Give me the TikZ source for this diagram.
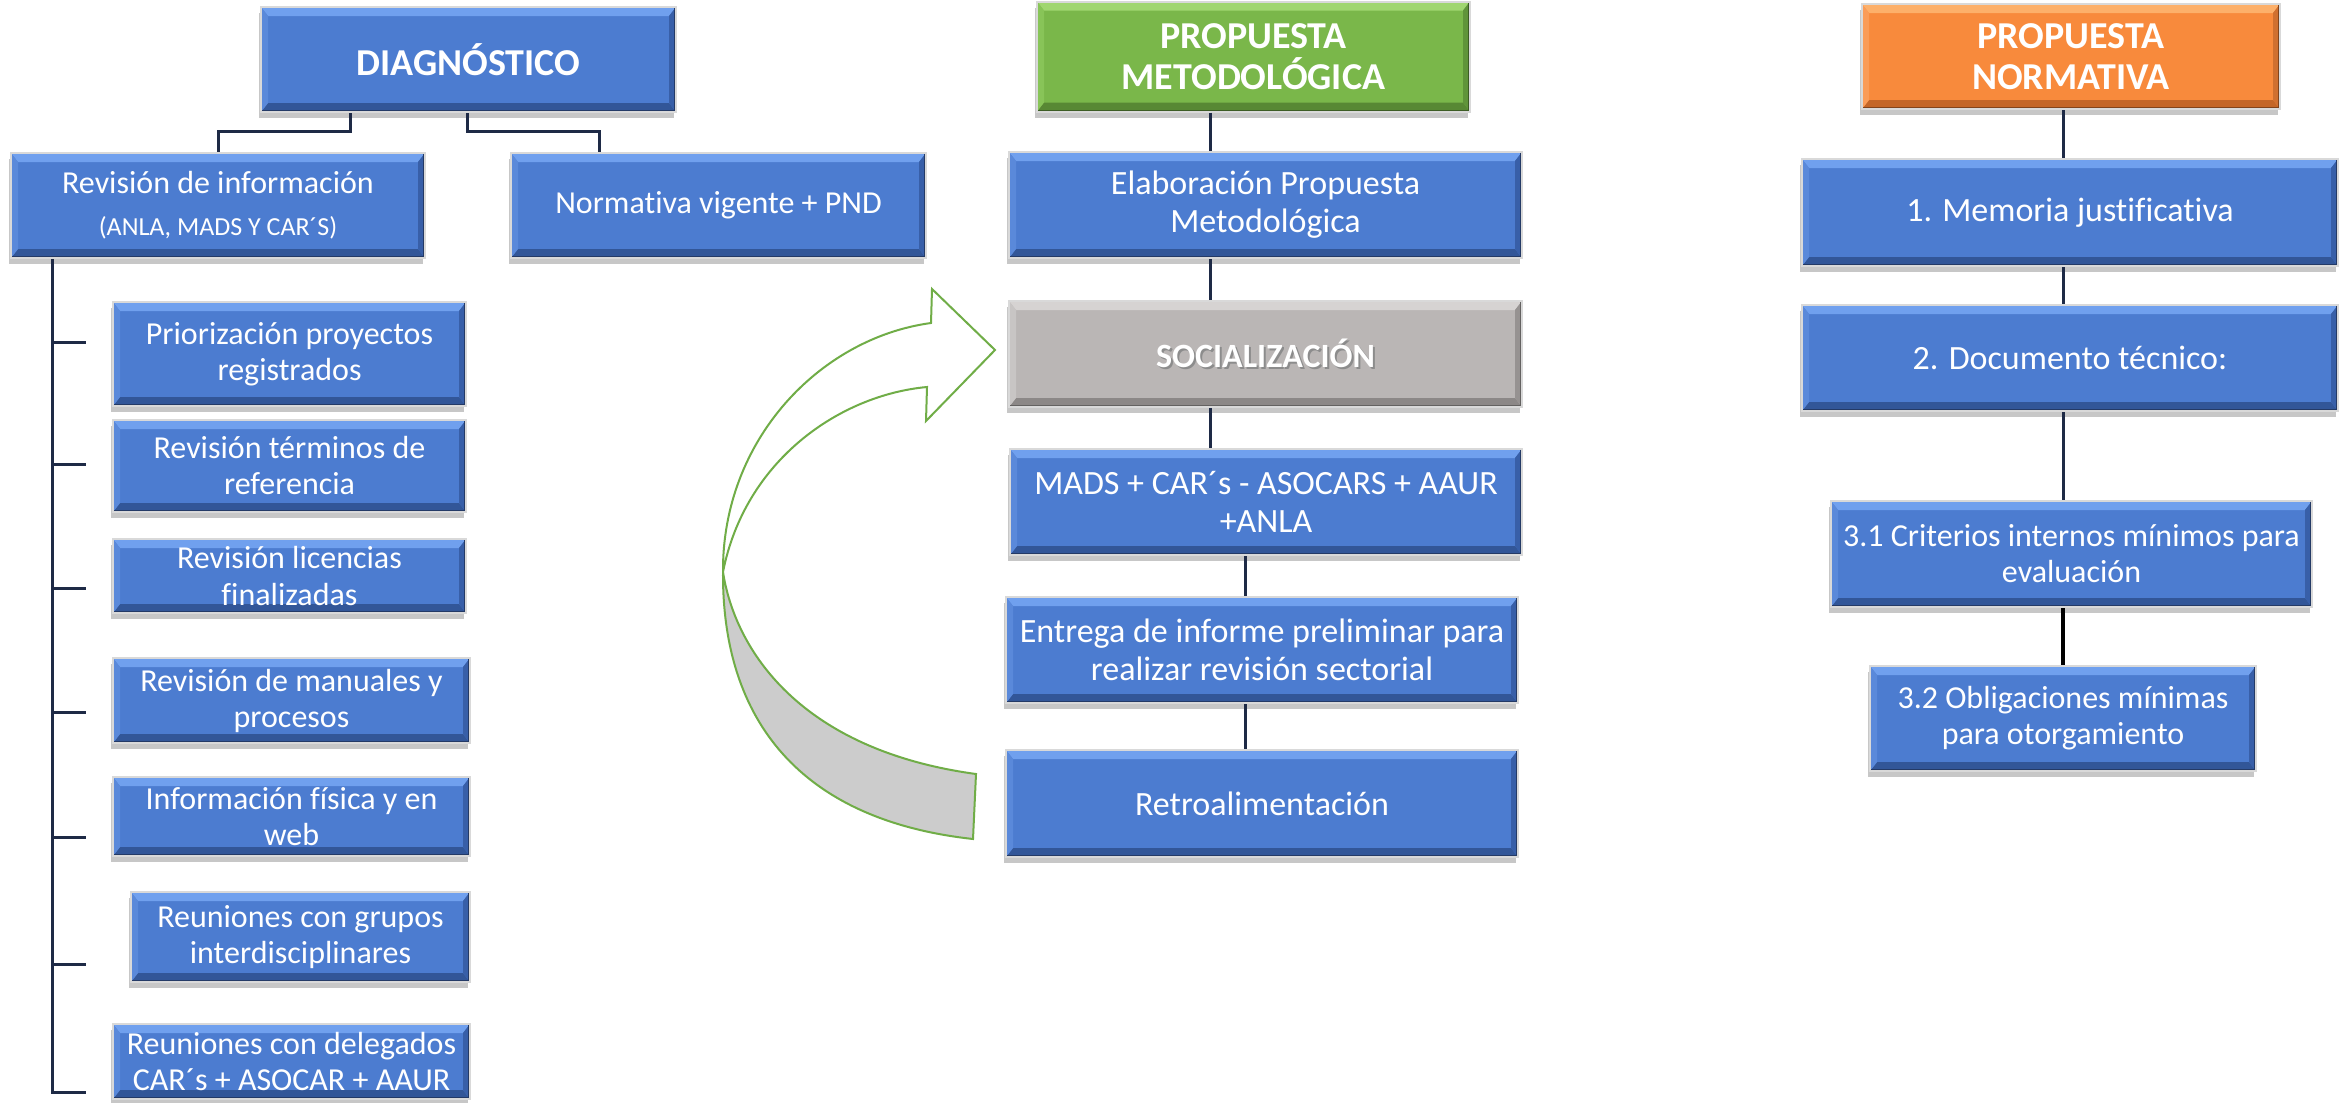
\documentclass[tikz,border=0pt]{standalone}
\usepackage{fontspec}
\setmainfont{Carlito}[Ligatures=NoCommon]
\usetikzlibrary{shadows}
\definecolor{bl}{RGB}{76,124,208}
\definecolor{blT}{RGB}{112,160,238}
\definecolor{blB}{RGB}{50,86,152}
\definecolor{blL}{RGB}{90,137,218}
\definecolor{blR}{RGB}{56,95,168}
\definecolor{blE}{RGB}{36,58,102}
\definecolor{gr}{RGB}{122,183,74}
\definecolor{grT}{RGB}{160,214,112}
\definecolor{grB}{RGB}{88,136,52}
\definecolor{grL}{RGB}{136,196,88}
\definecolor{grR}{RGB}{96,148,58}
\definecolor{grE}{RGB}{60,92,36}
\definecolor{orn}{RGB}{248,138,60}
\definecolor{ornT}{RGB}{253,176,106}
\definecolor{ornB}{RGB}{196,102,40}
\definecolor{ornL}{RGB}{250,156,88}
\definecolor{ornR}{RGB}{208,112,48}
\definecolor{ornE}{RGB}{130,68,28}
\definecolor{gy}{RGB}{186,182,181}
\definecolor{gyT}{RGB}{214,211,210}
\definecolor{gyB}{RGB}{140,136,135}
\definecolor{gyL}{RGB}{200,197,196}
\definecolor{gyR}{RGB}{150,146,145}
\definecolor{gyE}{RGB}{100,98,97}
\definecolor{navy}{RGB}{30,42,70}
\definecolor{agreen}{RGB}{112,173,71}
\definecolor{agray}{RGB}{204,204,204}
\tikzset{
  bevbox/.style n args={6}{rectangle, inner sep=0pt, text=white, align=center,
    fill=#1, draw=black!15, line width=2pt,
    drop shadow={shadow xshift=-2pt, shadow yshift=-6pt, opacity=0.22, fill=black},
    path picture={
      \fill[#2] (path picture bounding box.north west) -- (path picture bounding box.north east)
        -- ([xshift=-7pt,yshift=-9pt]path picture bounding box.north east)
        -- ([xshift=7pt,yshift=-9pt]path picture bounding box.north west) -- cycle;
      \fill[#3] (path picture bounding box.south west) -- (path picture bounding box.south east)
        -- ([xshift=-7pt,yshift=9pt]path picture bounding box.south east)
        -- ([xshift=7pt,yshift=9pt]path picture bounding box.south west) -- cycle;
      \fill[#4] (path picture bounding box.north west) -- (path picture bounding box.south west)
        -- ([xshift=7pt,yshift=9pt]path picture bounding box.south west)
        -- ([xshift=7pt,yshift=-9pt]path picture bounding box.north west) -- cycle;
      \fill[#5] (path picture bounding box.north east) -- (path picture bounding box.south east)
        -- ([xshift=-7pt,yshift=9pt]path picture bounding box.south east)
        -- ([xshift=-7pt,yshift=-9pt]path picture bounding box.north east) -- cycle;
      \draw[#6, line width=4pt] (path picture bounding box.north east) -- (path picture bounding box.south east) -- (path picture bounding box.south west);
    }},
  bluebox/.style={bevbox={bl}{blT}{blB}{blL}{blR}{blE}},
  greenbox/.style={bevbox={gr}{grT}{grB}{grL}{grR}{grE}},
  orangebox/.style={bevbox={orn}{ornT}{ornB}{ornL}{ornR}{ornE}},
  graybox/.style={bevbox={gy}{gyT}{gyB}{gyL}{gyR}{gyE}},
  ftitle/.style={font=\bfseries\fontsize{38}{41}\selectfont},
  fsoc/.style={font=\bfseries\fontsize{34}{38}\selectfont},
  fbody/.style={font=\fontsize{32}{36}\selectfont},
  fbig/.style={font=\fontsize{34}{38}\selectfont},
  link/.style={draw=navy, line width=3pt},
  thicklink/.style={draw=black, line width=4.5pt},
  arrowpart/.style={draw=agreen, line width=2pt, line join=miter},
}
\begin{document}
\begin{tikzpicture}[x=1pt, y=-1pt]
\useasboundingbox (0,0) rectangle (2343,1103);
\fill[white] (0,0) rectangle (2343,1103);

% curved feedback arrow (shape)
\coordinate (P) at (723,572);
\filldraw[arrowpart, fill=white] (P) .. controls (722,440) and (820,338) .. (931,323)
  -- (932,289) -- (995,350) -- (926,421) -- (927,387)
  .. controls (840,395) and (745,460) .. (P) -- cycle;
\filldraw[arrowpart, fill=agray] (P) .. controls (722,720) and (800,820) .. (973,839)
  -- (976,774) .. controls (800,750) and (735,650) .. (P) -- cycle;

% ---------- left column ----------
\node[bluebox, ftitle, minimum width=415pt, minimum height=105pt] (diag) at (468.5,59.5) {DIAGNÓSTICO};
\node[bluebox, fbody, minimum width=414pt, minimum height=105pt] (rev) at (218,205.5)
  {Revisión de información\\[6pt]{\fontsize{26}{30}\selectfont (ANLA, MADS Y CAR´S)}};
\node[bluebox, fbody, minimum width=415pt, minimum height=105pt] (norm) at (718.5,205.5) {Normativa vigente + PND};

\node[bluebox, fbody, minimum width=353pt, minimum height=104pt] (c1) at (289.5,354) {Priorización proyectos\\registrados};
\node[bluebox, fbody, minimum width=353pt, minimum height=92pt] (c2) at (289.5,466) {Revisión términos de\\referencia};
\node[bluebox, fbody, minimum width=353pt, minimum height=74pt] (c3) at (289.5,576) {Revisión licencias\\finalizadas};
\node[bluebox, fbody, minimum width=357pt, minimum height=85pt] (c4) at (291.5,700.5) {Revisión de manuales y\\procesos};
\node[bluebox, fbody, minimum width=357pt, minimum height=79pt] (c5) at (291.5,816.5) {Información física y en\\web};
\node[bluebox, fbody, minimum width=339pt, minimum height=90pt] (c6) at (300.5,937) {Reuniones con grupos\\interdisciplinares};
\node[bluebox, fbody, minimum width=357pt, minimum height=75pt] (c7) at (291.5,1061.5) {Reuniones con delegados\\CAR´s + ASOCAR + AAUR};

\coordinate (dl) at (350,131);
\coordinate (dr) at (467,131);
\coordinate (nl) at (599,131);
\draw[link] (diag.south -| dl) -- (dl) -| (rev.north);
\draw[link] (diag.south -| dr) -- (dr) -| (norm.north -| nl);

\coordinate (tr) at (52,1092);
\coordinate (k1) at (86,342);
\coordinate (k2) at (86,464);
\coordinate (k3) at (86,588);
\coordinate (k4) at (86,712);
\coordinate (k5) at (86,837);
\coordinate (k6) at (86,964);
\coordinate (k7) at (86,1092);
\draw[link] (rev.south -| tr) -- (tr) -- (k7);
\foreach \k in {k1,k2,k3,k4,k5,k6} { \draw[link] (\k -| tr) -- (\k); }

% ---------- middle column ----------
\node[greenbox, ftitle, minimum width=433pt, minimum height=110pt] (pm) at (1253.5,56.5) {PROPUESTA\\METODOLÓGICA};
\node[bluebox, fbig, minimum width=513pt, minimum height=106pt] (elab) at (1265.5,205) {Elaboración Propuesta\\Metodológica};
\node[graybox, fsoc, minimum width=513pt, minimum height=106pt] (soc) at (1265.5,354)
  {\makebox[0pt][l]{\hspace{2pt}\raisebox{-2pt}{\color{black!45}SOCIALIZACIÓN}}SOCIALIZACIÓN};
\node[bluebox, fbig, minimum width=512pt, minimum height=106pt] (mads) at (1266,502) {MADS + CAR´s - ASOCARS + AAUR\\+ANLA};
\node[bluebox, fbig, minimum width=512pt, minimum height=106pt] (ent) at (1262,650) {Entrega de informe preliminar para\\realizar revisión sectorial};
\node[bluebox, fbig, minimum width=512pt, minimum height=107pt] (retro) at (1262,803.5) {Retroalimentación};

\coordinate (m1) at (1210,0);
\coordinate (m2) at (1245,0);
\draw[link] (pm.south -| m1) -- (elab.north -| m1);
\draw[link] (elab.south -| m1) -- (soc.north -| m1);
\draw[link] (soc.south -| m1) -- (mads.north -| m1);
\draw[link] (mads.south -| m2) -- (ent.north -| m2);
\draw[link] (ent.south -| m2) -- (retro.north -| m2);

% ---------- right column ----------
\node[orangebox, ftitle, minimum width=418pt, minimum height=105pt] (pn) at (2071,56.5) {PROPUESTA\\NORMATIVA};
\node[bluebox, fbig, minimum width=536pt, minimum height=107pt] (mem) at (2070,212.5) {1. Memoria justificativa};
\node[bluebox, fbig, minimum width=536pt, minimum height=106pt] (doc) at (2070,358) {2. Documento técnico:};
\node[bluebox, fbody, minimum width=481pt, minimum height=106pt] (c31) at (2071.5,554) {3.1 Criterios internos mínimos para\\evaluación};
\node[bluebox, fbody, minimum width=386pt, minimum height=105pt] (c32) at (2063,718.5) {3.2 Obligaciones mínimas\\para otorgamiento};

\coordinate (r1) at (2063,0);
\draw[link] (pn.south -| r1) -- (mem.north -| r1);
\draw[link] (mem.south -| r1) -- (doc.north -| r1);
\draw[link] (doc.south -| r1) -- (c31.north -| r1);
\draw[thicklink] (c31.south -| r1) -- (c32.north -| r1);
\end{tikzpicture}
\end{document}
